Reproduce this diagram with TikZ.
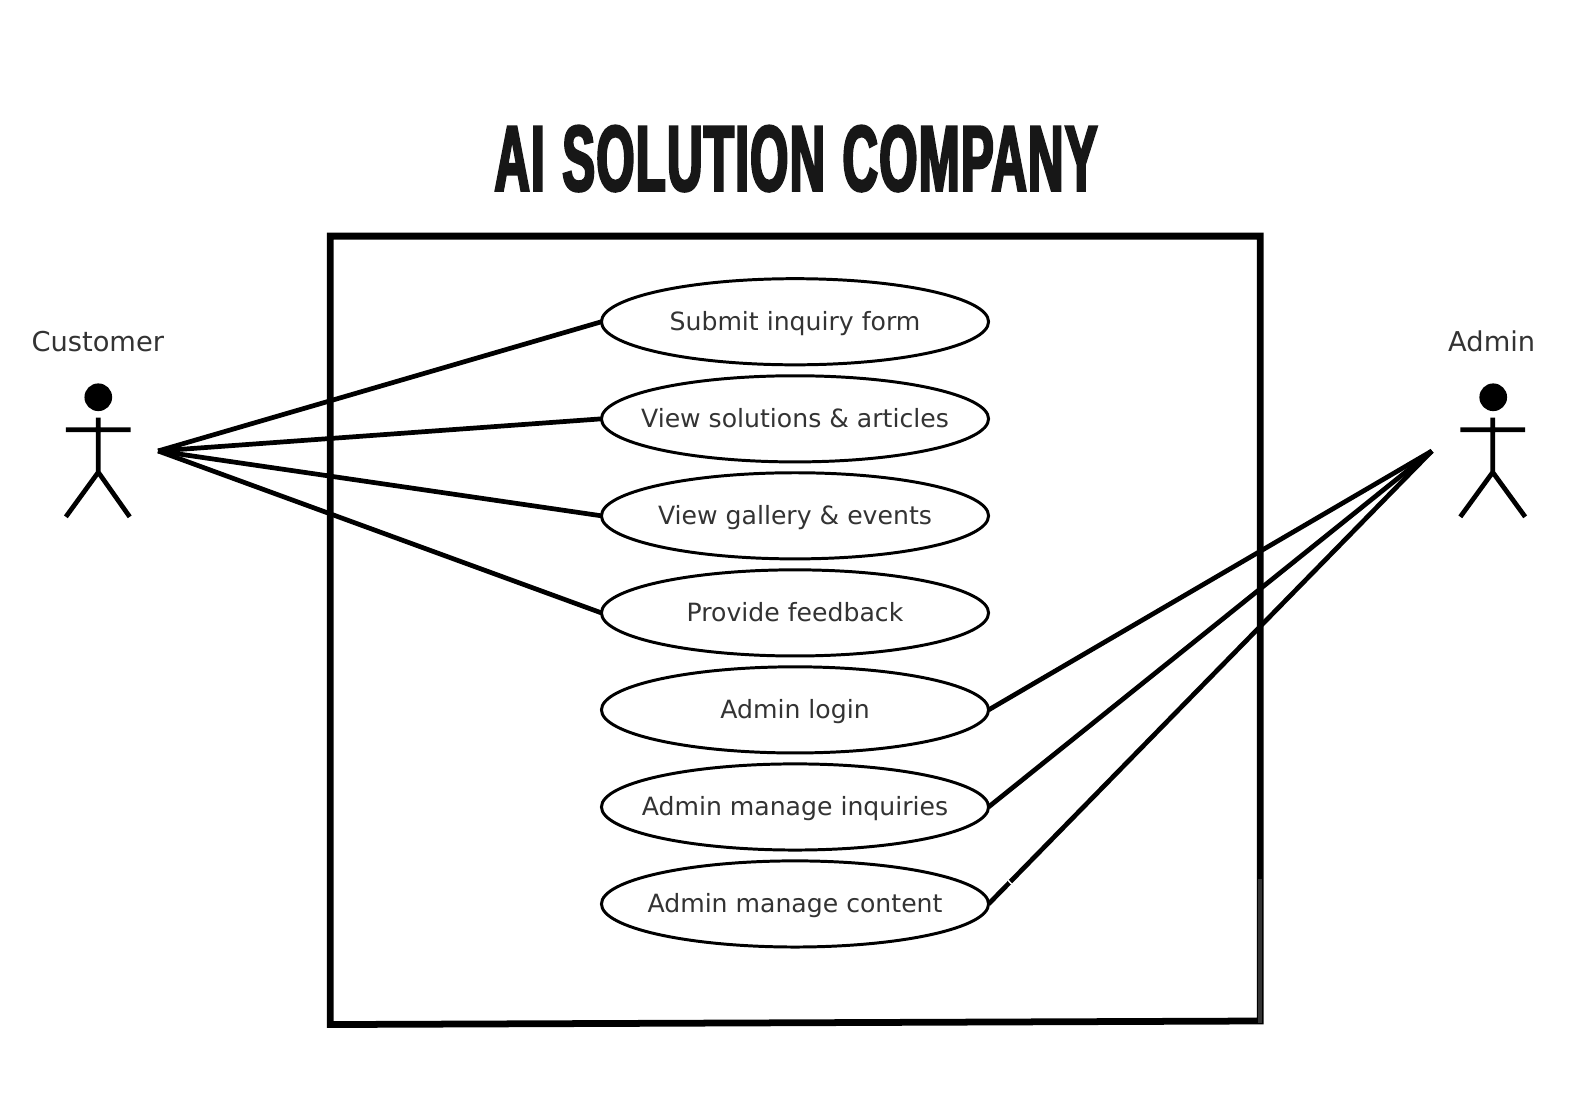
\documentclass[tikz,border=0pt]{standalone}
\usepackage{fontspec}
\setmainfont{DejaVu Sans}
\newfontfamily\titlefont[FakeStretch=0.525,FakeBold=2.6,LetterSpace=1.5]{Liberation Sans Bold}
\definecolor{labelgray}{HTML}{333333}
\definecolor{titleblack}{HTML}{171717}
\newcommand{\uctext}[1]{\makebox[0pt]{\vphantom{y}\rule{0pt}{16.3pt}#1}}
\tikzset{
  usecase/.style={draw=black,line width=2.2pt,fill=white,ellipse,minimum width=286.5pt,minimum height=63.75pt,inner sep=0pt,outer sep=0pt,text=labelgray,font=\fontsize{18.6}{22}\selectfont},
  actorname/.style={text=labelgray,font=\fontsize{20.2}{24}\selectfont,inner sep=0pt},
  assoc/.style={line width=3.5pt,black},
  stick/.style={line width=3.5pt,black},
  frameline/.style={line width=5pt,black,line cap=rect},
}
\usetikzlibrary{shapes.geometric}
\begin{document}
\begin{tikzpicture}[x=0.75pt,y=-0.75pt]
\useasboundingbox (0,0) rectangle (1568,1103);
\fill[white] (0,0) rectangle (1568,1103);
\node[text=titleblack,inner sep=0pt,font=\titlefont\fontsize{69}{70}\selectfont] (title) at (785.5,156.5) {AI\hspace{13pt}SOLUTION\hspace{13pt}COMPANY};
% frame
\coordinate (tl) at (326,233);
\coordinate (tr) at (1243.5,233);
\coordinate (br) at (1243.5,1007.5);
\coordinate (bl) at (326,1011);
\draw[frameline,line join=miter] (tl) -- (tr) -- (br) -- (bl) -- cycle;
\fill[labelgray] (1241.5,867) rectangle (1245.5,1009);
% use cases
\node[usecase] (uc1) at (784.5,317.5) {\uctext{Submit inquiry form}};
\node[usecase] (uc2) at (784.5,413.3) {\uctext{View solutions \& articles}};
\node[usecase] (uc3) at (784.5,509) {\uctext{View gallery \& events}};
\node[usecase] (uc4) at (784.5,604.8) {\uctext{Provide feedback}};
\node[usecase] (uc5) at (784.5,700.5) {\uctext{Admin login}};
\node[usecase] (uc6) at (784.5,796.3) {\uctext{Admin manage inquiries}};
\node[usecase] (uc7) at (784.5,892) {\uctext{Admin manage content}};
% actors
\node[actorname] (custname) at (96.5,337) {Customer};
\node[actorname] (adminname) at (1472,337) {Admin};
\node[circle,fill=black,minimum size=20.5pt,inner sep=0pt] (custhead) at (97,392) {};
\node[circle,fill=black,minimum size=20.5pt,inner sep=0pt] (adminhead) at (1473.5,392) {};
\draw[stick] (97,412) -- (97,466) -- (65,510) (97,466) -- (128,510) (65,424) -- (129,424);
\draw[stick] (1473,412) -- (1473,466) -- (1441,510) (1473,466) -- (1505,510) (1441,424) -- (1505,424);
\coordinate (custport) at (156,445);
\coordinate (adminport) at (1413,445);
% associations
\foreach \u in {uc1,uc2,uc3,uc4} \draw[assoc] (custport) -- (\u.west);
\foreach \u in {uc5,uc6,uc7} \draw[assoc] (adminport) -- (\u.east);
\fill[white,rotate around={-47:(996.5,870.5)}] (994,869.8) rectangle (999,871.2);
\end{tikzpicture}
\end{document}
